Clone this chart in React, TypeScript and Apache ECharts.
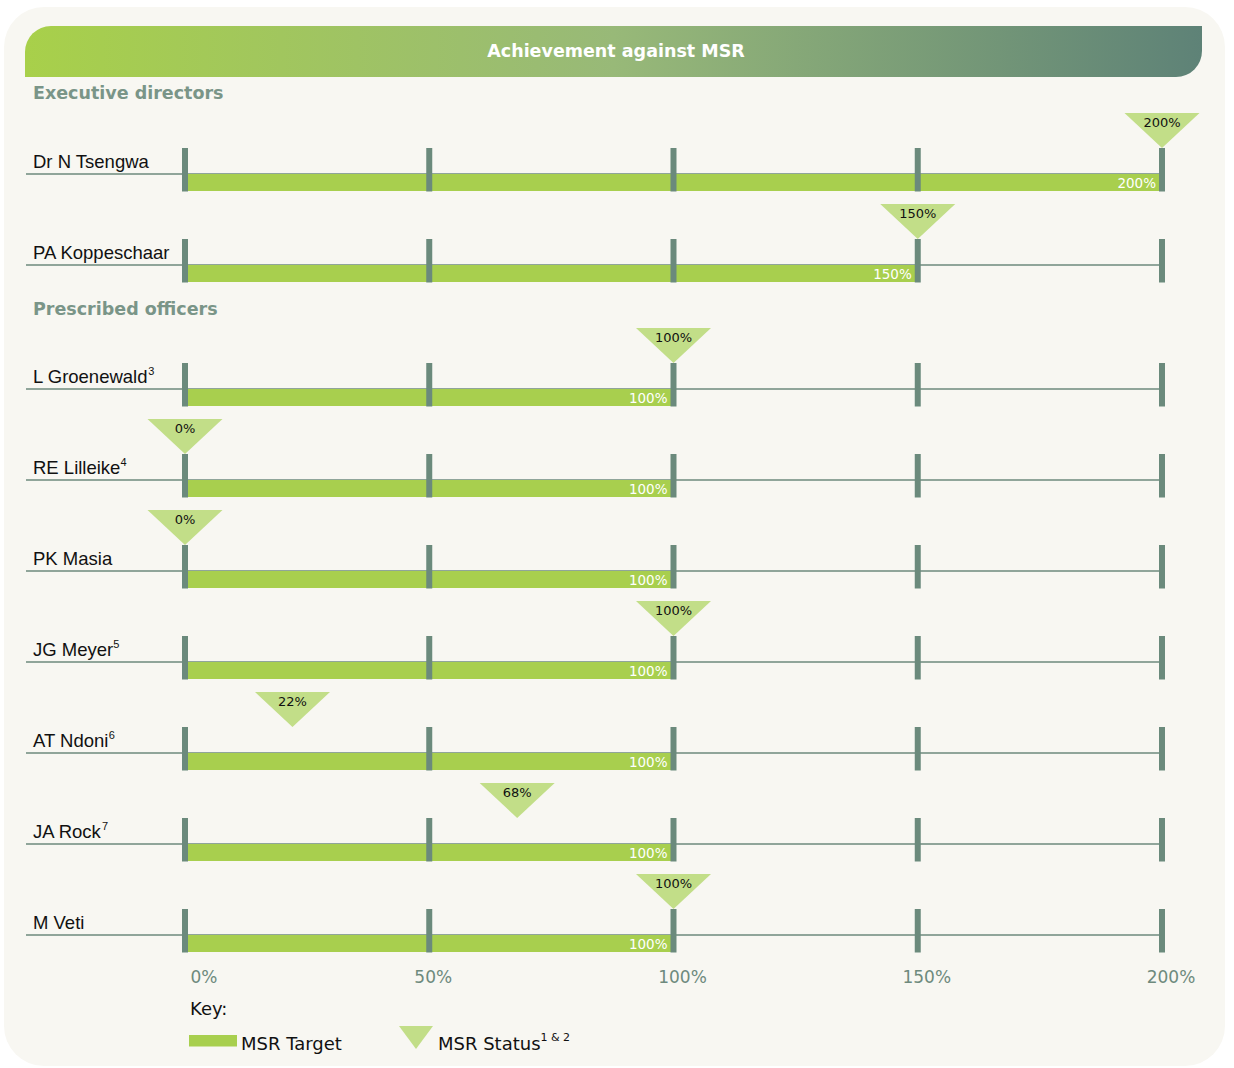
import React, { useEffect, useRef } from 'react';
import * as echarts from 'echarts';

// ---------- data ----------
const title = 'Achievement against MSR';
const execSection = 'Executive directors';
const officerSection = 'Prescribed officers';

const execNames = ['Dr N Tsengwa', 'PA Koppeschaar'];
const execSup = ['', ''];
const execTarget = [200, 150];
const execStatus = [200, 150];

const officerNames = ['L Groenewald', 'RE Lilleike', 'PK Masia', 'JG Meyer', 'AT Ndoni', 'JA Rock', 'M Veti'];
const officerSup = ['3', '4', '', '5', '6', '7', ''];
const officerTarget = [100, 100, 100, 100, 100, 100, 100];
const officerStatus = [100, 0, 0, 100, 22, 68, 100];

const tickValues = [0, 50, 100, 150, 200];
const AXIS_MAX = 200;

const keyTitle = 'Key:';
const keyTarget = 'MSR Target';
const keyStatus = 'MSR Status';
const keyStatusSup = '1 & 2';

// ---------- styles ----------
const BAR = '#a8cf4e';
const TRI = '#c2de88';
const TICK = '#6b8a7c';
const LINE = '#6e8a7d';
const SECTION = '#7a9588';
const FONT_WIDE = 'DejaVu Sans';
const FONT_NAME = 'Liberation Sans';
const ROW_SHIFT = 22;

const renderRow = (params: any, api: any) => {
  const target = api.value(0);
  const status = api.value(1);
  const row = api.value(2);
  const p0 = api.coord([0, row]);
  const line = p0[1] + ROW_SHIFT;
  const x0 = p0[0];
  const xEnd = api.coord([AXIS_MAX, row])[0];
  const xT = api.coord([target, row])[0];
  const xS = api.coord([status, row])[0];
  const children: any[] = [];
  children.push({
    type: 'line',
    shape: { x1: 26, y1: line, x2: xEnd, y2: line },
    style: { stroke: LINE, lineWidth: 1.5 },
  });
  children.push({
    type: 'rect',
    shape: { x: x0, y: line, width: xT - x0, height: 17 },
    style: { fill: BAR },
  });
  tickValues.forEach((t) => {
    const x = api.coord([t, row])[0];
    children.push({
      type: 'rect',
      shape: { x: x - 3, y: line - 26, width: 6, height: 43.5 },
      style: { fill: TICK },
    });
  });
  children.push({
    type: 'text',
    x: xT - 6,
    y: line + 9,
    style: {
      text: `${target}%`,
      align: 'right', verticalAlign: 'middle',
      textAlign: 'right', textVerticalAlign: 'middle',
      fill: '#ffffff', fontSize: 13.5, fontFamily: FONT_WIDE,
    },
  });
  children.push({
    type: 'polygon',
    shape: { points: [[xS - 37.5, line - 61], [xS + 37.5, line - 61], [xS, line - 26]] },
    style: { fill: TRI },
  });
  children.push({
    type: 'text',
    x: xS,
    y: line - 52,
    style: {
      text: `${status}%`,
      align: 'center', verticalAlign: 'middle',
      textAlign: 'center', textVerticalAlign: 'middle',
      fill: '#111111', fontSize: 13, fontFamily: FONT_WIDE,
    },
  });
  return { type: 'group', children };
};

const nameLabel = (sups: string[]) => ({
  show: true,
  interval: 0,
  align: 'left',
  margin: 152,
  padding: [18, 0, 0, 0],
  formatter: (v: string, i: number) => (sups[i] ? `{n|${v}}{s|${sups[i]}}` : `{n|${v}}`),
  rich: {
    n: { fontSize: 18.5, fontFamily: FONT_NAME, color: '#111111', lineHeight: 22, verticalAlign: 'middle' },
    s: { fontSize: 11, fontFamily: FONT_NAME, color: '#111111', lineHeight: 12, verticalAlign: 'top' },
  },
});

export default function App() {
  const ref = useRef<HTMLDivElement>(null);
  useEffect(() => {
    const chart = echarts.init(ref.current!, null, { renderer: 'svg' });
    const option: any = {
      animation: false,
      backgroundColor: '#ffffff',
      grid: [
        { left: 185, right: 72, top: 106.5, height: 182 },
        { left: 185, right: 72, top: 321.5, height: 637 },
      ],
      xAxis: [
        {
          gridIndex: 0, type: 'value', min: 0, max: AXIS_MAX, interval: 50,
          show: false, splitLine: { show: false },
        },
        {
          gridIndex: 1, type: 'value', min: 0, max: AXIS_MAX, interval: 50,
          axisLine: { show: false }, axisTick: { show: false }, splitLine: { show: false },
          axisLabel: {
            show: true, margin: 10, showMinLabel: true, showMaxLabel: true,
            formatter: (v: number) => (v === 0 ? `{z|${v}%}` : v === 50 ? `{f|${v}%}` : `{n|${v}%}`),
            rich: {
              z: { fontSize: 17, fontFamily: FONT_WIDE, color: LINE, padding: [0, 0, 0, 38] },
              f: { fontSize: 17, fontFamily: FONT_WIDE, color: LINE, padding: [0, 0, 0, 8] },
              n: { fontSize: 17, fontFamily: FONT_WIDE, color: LINE, padding: [0, 0, 0, 18] },
            },
          },
        },
      ],
      yAxis: [
        {
          gridIndex: 0, type: 'category', data: execNames, inverse: true,
          axisLine: { show: false }, axisTick: { show: false }, splitLine: { show: false },
          axisLabel: nameLabel(execSup),
        },
        {
          gridIndex: 1, type: 'category', data: officerNames, inverse: true,
          axisLine: { show: false }, axisTick: { show: false }, splitLine: { show: false },
          axisLabel: nameLabel(officerSup),
        },
      ],
      series: [
        {
          type: 'custom', name: 'Executive directors', xAxisIndex: 0, yAxisIndex: 0, clip: false,
          encode: { x: [0, 1], y: 2 },
          data: execTarget.map((t, i) => [t, execStatus[i], i]),
          renderItem: renderRow,
        },
        {
          type: 'custom', name: 'Prescribed officers', xAxisIndex: 1, yAxisIndex: 1, clip: false,
          encode: { x: [0, 1], y: 2 },
          data: officerTarget.map((t, i) => [t, officerStatus[i], i]),
          renderItem: renderRow,
        },
      ],
      graphic: {
        elements: [
          {
            type: 'rect', z: -100, silent: true,
            shape: { x: 4, y: 7, width: 1221, height: 1059, r: 40 },
            style: { fill: '#f8f7f2' },
          },
          {
            type: 'rect', z: 10, silent: true,
            shape: { x: 25, y: 26, width: 1177, height: 51, r: [26, 0, 26, 0] },
            style: {
              fill: new echarts.graphic.LinearGradient(0, 0, 1, 0, [
                { offset: 0, color: '#a8d04a' },
                { offset: 0.5, color: '#98b978' },
                { offset: 1, color: '#5e8277' },
              ]),
            },
          },
          {
            type: 'text', z: 11, x: 616, y: 51,
            style: {
              text: title, fill: '#ffffff', fontSize: 17.5, fontWeight: 'bold', fontFamily: FONT_WIDE,
              align: 'center', verticalAlign: 'middle', textAlign: 'center', textVerticalAlign: 'middle',
            },
          },
          {
            type: 'text', z: 11, x: 33, y: 93,
            style: {
              text: execSection, fill: SECTION, fontSize: 17.5, fontWeight: 'bold', fontFamily: FONT_WIDE,
              align: 'left', verticalAlign: 'middle', textAlign: 'left', textVerticalAlign: 'middle',
            },
          },
          {
            type: 'text', z: 11, x: 33, y: 309,
            style: {
              text: officerSection, fill: SECTION, fontSize: 17.5, fontWeight: 'bold', fontFamily: FONT_WIDE,
              align: 'left', verticalAlign: 'middle', textAlign: 'left', textVerticalAlign: 'middle',
            },
          },
          {
            type: 'text', z: 11, x: 190, y: 1008,
            style: {
              text: keyTitle, fill: '#111111', fontSize: 18, fontFamily: FONT_WIDE,
              align: 'left', verticalAlign: 'middle', textAlign: 'left', textVerticalAlign: 'middle',
            },
          },
          {
            type: 'rect', z: 11,
            shape: { x: 189, y: 1035, width: 48, height: 11.5 },
            style: { fill: BAR },
          },
          {
            type: 'text', z: 11, x: 241, y: 1043,
            style: {
              text: keyTarget, fill: '#111111', fontSize: 18, fontFamily: FONT_WIDE,
              align: 'left', verticalAlign: 'middle', textAlign: 'left', textVerticalAlign: 'middle',
            },
          },
          {
            type: 'polygon', z: 11,
            shape: { points: [[399, 1026], [433, 1026], [416, 1049]] },
            style: { fill: TRI },
          },
          {
            type: 'text', z: 11, x: 438, y: 1043,
            style: {
              text: `{m|${keyStatus}}{s|${keyStatusSup}}`,
              align: 'left', verticalAlign: 'middle', textAlign: 'left', textVerticalAlign: 'middle',
              rich: {
                m: { fontSize: 18, fontFamily: FONT_WIDE, fill: '#111111', color: '#111111', lineHeight: 22, verticalAlign: 'middle' },
                s: { fontSize: 11, fontFamily: FONT_WIDE, fill: '#111111', color: '#111111', lineHeight: 12, verticalAlign: 'top' },
              },
            },
          },
        ],
      },
    };
    chart.setOption(option);
    return () => chart.dispose();
  }, []);
  return (
    <div
      ref={ref}
      style={{ position: 'fixed', left: 0, top: 0, width: 1234, height: 1068, background: '#ffffff' }}
    />
  );
}
